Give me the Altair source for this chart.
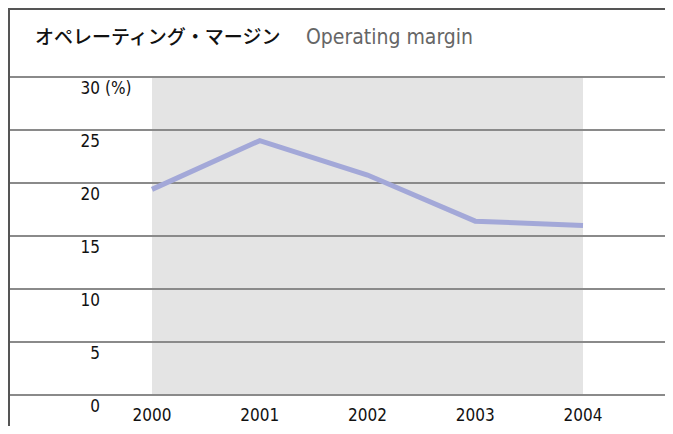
import altair as alt
import pandas as pd

years = [2000, 2001, 2002, 2003, 2004]
margin = [19.4, 24.0, 20.75, 16.4, 16.0]
y_ticks = [0, 5, 10, 15, 20, 25, 30]
y_labels = ["0", "5", "10", "15", "20", "25", "30"]
unit_label = "(%)"
title_jp = "オペレーティング・マージン"
title_en = "Operating margin"

W, H = 657, 418
FONT = "DejaVu Sans Condensed, Roboto, sans-serif"

# 2000 -> x=144, 2004 -> x=575 (107.75 px per year)
xs = alt.Scale(domain=[1998.6636, 2000 + (W - 144) / 107.75], nice=False, zero=False)
# 30 -> y=69, 0 -> y=387 (10.6 px per unit)
ys = alt.Scale(domain=[-(H - 387) / 10.6, 30 + 69 / 10.6], nice=False, zero=False)

line_df = pd.DataFrame({"year": years, "value": margin})
tick_df = pd.DataFrame({"tick": y_ticks, "label": y_labels})
band_df = pd.DataFrame({"x0": [years[0]], "x1": [years[-1]], "y0": [y_ticks[0]], "y1": [y_ticks[-1]]})
unit_df = pd.DataFrame({"tick": [y_ticks[-1]], "label": [unit_label]})
year_df = pd.DataFrame({"year": years, "label": [str(y) for y in years]})
title_df = pd.DataFrame({"jp": [title_jp], "en": [title_en]})

band = alt.Chart(band_df).mark_rect(color="#e4e4e4").encode(
    x=alt.X("x0:Q", scale=xs, axis=None),
    x2="x1:Q",
    y=alt.Y("y0:Q", scale=ys, axis=None),
    y2="y1:Q",
)

grid = alt.Chart(tick_df).mark_rule(color="#8a8a8a", strokeWidth=2).encode(
    y=alt.Y("tick:Q", scale=ys, axis=None),
    x=alt.value(0),
    x2=alt.value(W),
)

ylab = alt.Chart(tick_df).mark_text(
    align="right", baseline="top", dy=4, fontSize=17, font=FONT, color="#111"
).encode(
    y=alt.Y("tick:Q", scale=ys, axis=None),
    x=alt.value(92),
    text="label:N",
)

unit = alt.Chart(unit_df).mark_text(
    align="left", baseline="top", dy=4, fontSize=17, font=FONT, color="#111"
).encode(
    y=alt.Y("tick:Q", scale=ys, axis=None),
    x=alt.value(97),
    text="label:N",
)

xlab = alt.Chart(year_df).mark_text(
    align="center", baseline="alphabetic", fontSize=17, font=FONT, color="#111"
).encode(
    x=alt.X("year:Q", scale=xs, axis=None),
    y=alt.value(413),
    text="label:N",
)

line = alt.Chart(line_df).mark_line(color="#a3a8d8", strokeWidth=5).encode(
    x=alt.X("year:Q", scale=xs, axis=None),
    y=alt.Y("value:Q", scale=ys, axis=None),
)

tjp = alt.Chart(title_df).mark_text(
    align="left", baseline="alphabetic", fontSize=19, fontWeight=500,
    font="Noto Sans CJK JP", color="#111"
).encode(x=alt.value(27), y=alt.value(36), text="jp:N")

ten = alt.Chart(title_df).mark_text(
    align="left", baseline="alphabetic", fontSize=21, font=FONT, color="#666"
).encode(x=alt.value(298), y=alt.value(36), text="en:N")

border_left = alt.Chart(title_df).mark_rule(color="#555", strokeWidth=2).encode(
    x=alt.value(1), y=alt.value(1), y2=alt.value(H)
)
border_top = alt.Chart(title_df).mark_rule(color="#555", strokeWidth=2).encode(
    x=alt.value(0), x2=alt.value(W), y=alt.value(1)
)

chart = alt.layer(
    band, grid, line, ylab, unit, xlab, tjp, ten, border_left, border_top
).properties(
    width=W, height=H, padding=0, autosize="none"
).configure_view(stroke="transparent", strokeWidth=0)

chart.save("out.html", embed_options={"renderer": "svg", "actions": False})
